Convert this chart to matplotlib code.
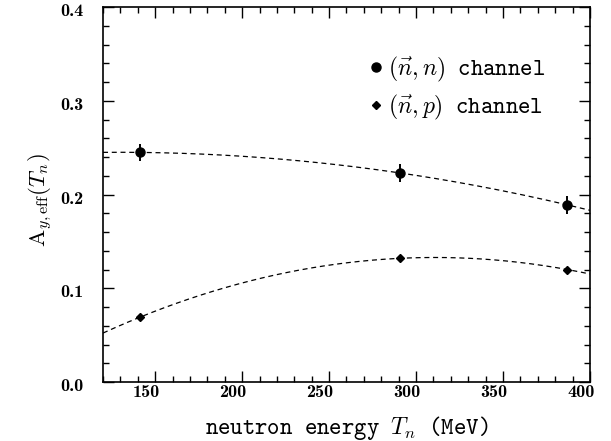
import numpy as np
import matplotlib.pyplot as plt
import matplotlib.transforms as mtrans
from matplotlib.ticker import MultipleLocator

plt.rcParams['mathtext.fontset'] = 'cm'
plt.rcParams['axes.unicode_minus'] = False

# data
energy = [141, 291, 387]
ay_nn = [0.245, 0.223, 0.189]
ay_nn_err = [0.009, 0.010, 0.010]
ay_np = [0.069, 0.132, 0.120]
ay_np_err = [0.002, 0.002, 0.002]
xticks = [150, 200, 250, 300, 350, 400]
yticks = [0.0, 0.1, 0.2, 0.3, 0.4]

fig = plt.figure(figsize=(6.11, 4.41), dpi=100)
ax = fig.add_axes([0.1686, 0.1338, 0.797, 0.850])

# quadratic fits through the points (dashed curves)
xf = np.linspace(120, 400, 200)
for y in (ay_nn, ay_np):
    c = np.polyfit(energy, y, 2)
    ax.plot(xf, np.polyval(c, xf), color='k', lw=0.9, ls=(0, (4, 3)))

eb1 = ax.errorbar(energy, ay_nn, yerr=ay_nn_err, fmt='o', color='k', ms=6.5,
                  elinewidth=1.4, capsize=0)
eb2 = ax.errorbar(energy, ay_np, yerr=ay_np_err, fmt='D', color='k', ms=4.5,
                  elinewidth=1.4, capsize=0)

ax.set_xlim(120, 400)
ax.set_ylim(0, 0.4)
ax.xaxis.set_minor_locator(MultipleLocator(10))
ax.yaxis.set_minor_locator(MultipleLocator(0.02))
ax.tick_params(which='both', direction='in', top=True, right=True, width=1)
ax.tick_params(which='major', length=8, labelsize=13, labelfontfamily='cmb10')
ax.tick_params(which='minor', length=4)
ax.tick_params(axis='x', pad=2)
ax.tick_params(axis='y', pad=14)
ax.set_xticks(xticks)
ax.set_xticklabels([str(v) for v in xticks])
ax.set_yticks(yticks)
ax.set_yticklabels(['%.1f' % v for v in yticks])
xoff = mtrans.ScaledTranslation(-0.09, 0, fig.dpi_scale_trans)
yoff = mtrans.ScaledTranslation(0, -0.03, fig.dpi_scale_trans)
for lab in ax.get_xticklabels():
    lab.set_transform(lab.get_transform() + xoff)
for lab in ax.get_yticklabels():
    lab.set_transform(lab.get_transform() + yoff)
for s in ax.spines.values():
    s.set_linewidth(1.2)

ax.set_xlabel(r'neutron energy $T_n$ (MeV)', fontfamily='cmtt10', fontsize=17)
ax.xaxis.set_label_coords(0.5, -0.085)
ax.xaxis.label.set_va('top')
ax.set_ylabel(r'$\mathrm{A}_{y,\mathrm{eff}}(T_n)$', fontsize=16.5)
ax.yaxis.set_label_coords(-0.100, 0.484)

ax.legend([eb1[0], eb2[0]],
          [r'$(\vec{n},n)$ channel', r'$(\vec{n},p)$ channel'],
          loc='upper left', bbox_to_anchor=(0.546, 0.872), frameon=False,
          borderpad=0, borderaxespad=0, handlelength=0.6, handletextpad=0.2,
          labelspacing=0.35, prop={'family': 'cmtt10', 'size': 17})

fig.savefig('out.png', dpi=100)
